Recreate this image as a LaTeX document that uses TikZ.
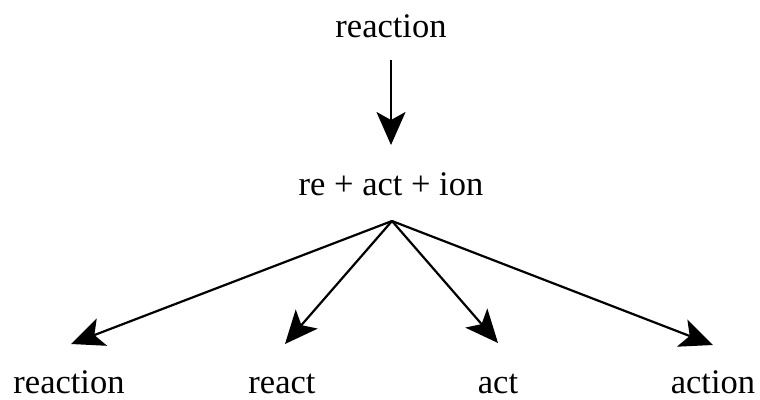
\documentclass[tikz,border=0pt]{standalone}
\usepackage{fontspec}
\setmainfont{Liberation Serif}
\usetikzlibrary{arrows.meta}
\begin{document}
\begin{tikzpicture}[x=1pt,y=-1pt,
  word/.style={anchor=base,inner sep=0pt,font=\fontsize{34.5}{40}\selectfont},
  arr/.style={line width=2.2pt,-{Stealth[length=33pt,width=29pt,inset=8pt]}}]
  \fill[white] (0,0) rectangle (760,399);
  % word and its decomposition
  \node[word] (word) at (391,37) {reaction};
  \node[word] (parts) at (391,195) {re + act + ion};
  % derived words
  \node[word] (w1) at (69,393) {reaction};
  \node[word] (w2) at (282,393) {react};
  \node[word] (w3) at (498,393) {act};
  \node[word] (w4) at (713,393) {action};
  % connector ends
  \coordinate (top) at (391,60);
  \coordinate (mid) at (391,145);
  \coordinate (hub) at (392,221);
  \coordinate (t1) at (71,344);
  \coordinate (t2) at (285,344);
  \coordinate (t3) at (498,343);
  \coordinate (t4) at (713,345);
  \draw[arr] (top) -- (mid);
  \foreach \t in {t1,t2,t3,t4} \draw[arr] (hub) -- (\t);
\end{tikzpicture}
\end{document}
